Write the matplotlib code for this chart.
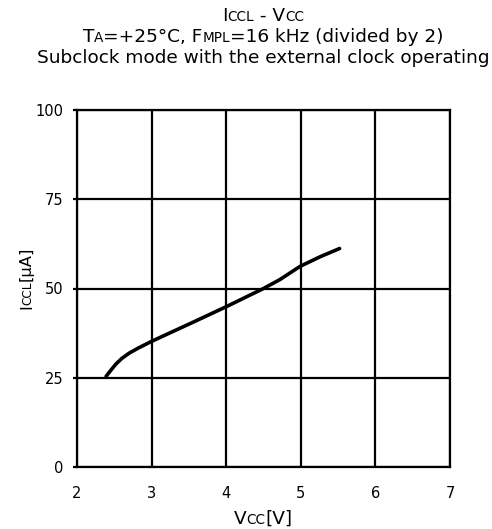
import numpy as np
import matplotlib.pyplot as plt

plt.rcParams['font.family'] = ['DejaVu Sans']

# curve
vcc = [2.39, 2.45, 2.52, 2.6, 2.7, 2.82, 3.0, 3.56, 4.0, 4.5, 4.72, 4.99, 5.26, 5.52]
iccl = [25.4, 27.0, 28.8, 30.4, 31.9, 33.3, 35.2, 40.6, 44.9, 50.0, 52.5, 56.2, 58.9, 61.2]

xticks = [2, 3, 4, 5, 6, 7]
yticks = [0, 25, 50, 75, 100]

fig = plt.figure(figsize=(4.92, 5.29), dpi=100)
ax = fig.add_axes([77 / 492, 1 - 467 / 529, 373 / 492, 357 / 529])

ax.plot(vcc, iccl, color='black', lw=2.6, solid_capstyle='round')
ax.set_xlim(2, 7)
ax.set_ylim(0, 100)
ax.set_xticks(xticks)
ax.set_yticks(yticks)
ax.grid(True, color='black', lw=1.6)
ax.set_axisbelow(True)
for s in ax.spines.values():
    s.set_linewidth(1.6)
ax.tick_params(axis='y', length=3, width=1.6, labelsize=10.5, pad=7)
ax.tick_params(axis='x', length=0, labelsize=10.5, pad=14)

renderer = fig.canvas.get_renderer()


def mixed(parts, x, y, rotation=0):
    # parts: list of (text, size); centred on x (or y when rotated)
    texts = []
    total = 0
    for s, size in parts:
        t = fig.text(0, 0, s, fontsize=size, rotation=rotation,
                     rotation_mode='anchor', ha='left', va='baseline')
        bb = t.get_window_extent(renderer)
        w = bb.height if rotation else bb.width
        texts.append((t, w))
        total += w
    if rotation:
        pos = y * fig.bbox.height - total / 2
        for t, w in texts:
            t.set_position((x, pos / fig.bbox.height))
            pos += w
    else:
        pos = x * fig.bbox.width - total / 2
        for t, w in texts:
            t.set_position((pos / fig.bbox.width, y))
            pos += w


big, small = 13.3, 9.8
mixed([('I', big), ('CCL', small), (' - V', big), ('CC', small)], 0.535, 1 - 21 / 529)
mixed([('T', big), ('A', small), ('=+25°C, F', big), ('MPL', small),
       ('=16 kHz (divided by 2)', big)], 0.535, 1 - 42 / 529)
mixed([('Subclock mode with the external clock operating', big)], 0.535, 1 - 63 / 529)

mixed([('V', big), ('CC', small), ('[V]', big)], 263.5 / 492, 1 - 524 / 529)
mixed([('I', 11.8), ('CCL', 8.7), ('[µA]', 11.8)], 31 / 492, 1 - 278 / 529, rotation=90)

fig.savefig('out.png', dpi=100)
